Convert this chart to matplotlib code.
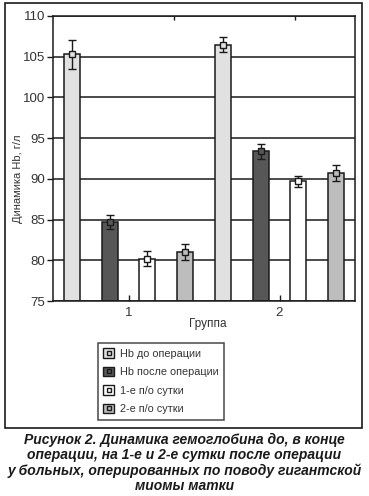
import matplotlib
matplotlib.use("Agg")
import matplotlib.pyplot as plt
from matplotlib.patches import Rectangle
import numpy as np

plt.rcParams['font.family'] = ['Liberation Sans', 'DejaVu Sans']

groups = ["1", "2"]
series = ["Hb до операции", "Hb после операции", "1-е п/о сутки", "2-е п/о сутки"]
values = {
    "Hb до операции": [105.3, 106.5],
    "Hb после операции": [84.7, 93.4],
    "1-е п/о сутки": [80.2, 89.7],
    "2-е п/о сутки": [81.0, 90.7],
}
errors = {
    "Hb до операции": [1.8, 0.9],
    "Hb после операции": [0.9, 0.9],
    "1-е п/о сутки": [0.9, 0.7],
    "2-е п/о сутки": [0.95, 0.95],
}
colors = ["#e1e1e1", "#575757", "#ffffff", "#bdbdbd"]
yticks = [75, 80, 85, 90, 95, 100, 105, 110]

W, H = 369, 496
fig = plt.figure(figsize=(W / 100, H / 100), dpi=100)

# outer frame
frame = Rectangle((5 / W, 1 - 428 / H), 357 / W, 425 / H, transform=fig.transFigure,
                  fill=False, edgecolor="#1a1a1a", linewidth=1.2)
fig.patches.append(frame)

ax = fig.add_axes([53 / W, 1 - 301 / H, 302 / W, 285 / H])
x = np.arange(1, len(groups) + 1)
offsets = [-0.375, -0.125, 0.125, 0.375]
bw = 0.106
ax.set_axisbelow(True)
for i, s in enumerate(series):
    xs = x + offsets[i]
    ax.bar(xs, [v - 75 for v in values[s]], bottom=75, width=bw, color=colors[i],
           edgecolor="#1a1a1a", linewidth=1.1, zorder=2)
    ax.errorbar(xs, values[s], yerr=errors[s], fmt="s", color="#1a1a1a",
                markerfacecolor=colors[i], markeredgecolor="#1a1a1a",
                markersize=5, markeredgewidth=1.0, ecolor="#1a1a1a",
                elinewidth=1.0, capsize=3, capthick=1.6, zorder=3)

ax.set_ylim(75, 110)
ax.set_xlim(0.5, 2.5)
ax.set_yticks(yticks)
ax.set_xticks(x)
ax.set_xticklabels(groups)
ax.yaxis.grid(True, color="#1a1a1a", linewidth=1.1)
ax.tick_params(axis="y", direction="out", length=4, width=1, labelsize=9.5,
               labelcolor="#333333", color="#1a1a1a", pad=1.5)
ax.tick_params(axis="x", direction="in", length=4, width=1, labelsize=9.5,
               labelcolor="#333333", color="#1a1a1a", pad=4)
for sp in ax.spines.values():
    sp.set_color("#1a1a1a")
    sp.set_linewidth(1.1)
sec = ax.secondary_xaxis("top")
sec.set_xticks([1.3, 2.1])
sec.set_xticklabels([])
sec.tick_params(direction="in", length=3, width=1, color="#1a1a1a")
sec.spines["top"].set_visible(False)

ax.set_ylabel("Динамика Hb, г/л", fontsize=8, color="#333333")
ax.yaxis.set_label_coords(-0.099, 0.43)
ax.set_xlabel("Группа", fontsize=8.5, color="#333333")
ax.xaxis.set_label_coords(0.513, -0.058)

# legend
handles = []
for i, s in enumerate(series):
    handles.append((Rectangle((0, 0), 1, 1, facecolor=colors[i], edgecolor="#1a1a1a", linewidth=1.0),
                    plt.Line2D([], [], marker="s", linestyle="none", markersize=3.2,
                               markerfacecolor=colors[i], markeredgecolor="#1a1a1a")))
leg = fig.legend(handles, series, loc="upper left",
                 bbox_to_anchor=(98 / W, 1 - 343 / H), borderaxespad=0, fontsize=7.8,
                 frameon=True, fancybox=False, edgecolor="#1a1a1a",
                 handlelength=0.95, handleheight=0.95, handletextpad=0.6,
                 labelspacing=0.75, borderpad=0.5, labelcolor="#333333")
leg.get_frame().set_linewidth(1.1)

caption = ("Рисунок 2. Динамика гемоглобина до, в конце\n"
           "операции, на 1-е и 2-е сутки после операции\n"
           "у больных, оперированных по поводу гигантской\n"
           "миомы матки")
fig.text(0.5, 1 - 433 / H, caption, ha="center", va="top", fontsize=10,
         fontweight="bold", fontstyle="italic", color="#1a1a1a", linespacing=1.1)

fig.savefig("out.png", dpi=100)
